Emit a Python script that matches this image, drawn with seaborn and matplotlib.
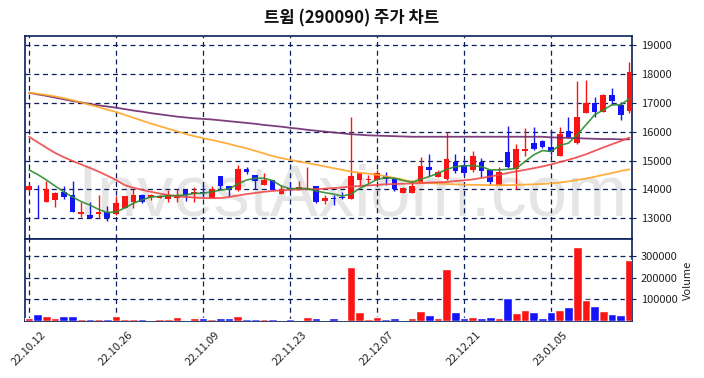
import numpy as np
import pandas as pd
import matplotlib
matplotlib.use("Agg")
import matplotlib.pyplot as plt
import seaborn as sns

# ---------------- data ----------------
title = "트윔 (290090) 주가 차트"
watermark = "InvestAxiom.com"
tick_labels = ["22.10.12", "22.10.26", "22.11.09", "22.11.23", "22.12.07", "22.12.21", "23.01.05"]
tick_every = 10

open_ = [13980, 13960, 13580, 13650, 13925, 13810, 13160, 13100, 13160, 13210,
         13160, 13350, 13560, 13810, 13740, 13690, 13660, 13690, 13990, 13830,
         13920, 13690, 14470, 14120, 13980, 14700, 14500, 14140, 14330, 13860,
         14050, 14020, 14020, 14120, 13590, 13720, 13720, 13660, 14330, 14330,
         14330, 14470, 14350, 13890, 13890, 14210, 14780, 14420, 14350, 14940,
         14850, 14680, 14940, 14680, 14160, 15290, 14720, 15350, 15600, 15680,
         15480, 15170, 16040, 15610, 16650, 16990, 16700, 17280, 16940, 16740]
close = [14120, 13940, 14000, 13880, 13750, 13230, 13220, 13010, 13220, 13000,
         13520, 13760, 13810, 13580, 13800, 13770, 13800, 13810, 13810, 13900,
         13870, 14000, 14120, 13980, 14710, 14610, 14310, 14340, 13980, 14020,
         14030, 14100, 14060, 13580, 13700, 13670, 13700, 14470, 14560, 14360,
         14560, 14350, 14020, 14050, 14130, 14810, 14680, 14620, 15050, 14650,
         14560, 15160, 14650, 14260, 14620, 14790, 15400, 15400, 15400, 15480,
         15290, 15920, 15830, 16530, 16990, 16700, 17280, 17080, 16590, 18070]
high = [14200, 14150, 14300, 13900, 14130, 14300, 13580, 13560, 13800, 13440,
        13790, 13790, 14000, 13850, 13850, 13800, 13990, 14000, 14000, 14100,
        14150, 14120, 14470, 14120, 14850, 14790, 14520, 14560, 14330, 14160,
        14260, 14310, 14770, 14130, 13810, 13810, 13920, 16520, 14560, 14490,
        14680, 14620, 14380, 14080, 14330, 15140, 15230, 14680, 16000, 15220,
        15020, 15350, 15100, 14700, 14790, 16200, 15570, 16150, 16180, 15720,
        16050, 16160, 16510, 17770, 17800, 17200, 17300, 17520, 17050, 18420]
low = [13960, 13000, 13580, 13400, 13660, 13230, 13050, 13000, 13020, 12900,
       13130, 13350, 13360, 13540, 13650, 13690, 13580, 13560, 13600, 13580,
       13750, 13690, 14000, 13770, 13950, 14540, 14020, 14140, 13980, 13860,
       13940, 14000, 14010, 13520, 13500, 13470, 13670, 13660, 14170, 14220,
       14300, 14160, 13950, 13890, 13890, 14210, 14470, 14420, 14330, 14560,
       14500, 14620, 14450, 14190, 14160, 14730, 14030, 15160, 15380, 15450,
       15200, 15170, 15790, 15570, 16650, 16500, 16700, 16940, 16400, 16640]
volume = [14000, 32000, 23000, 14000, 23000, 23000, 9000, 9000, 9000, 9000,
          23000, 9000, 9000, 9000, 5000, 9000, 9000, 18000, 5000, 14000,
          14000, 9000, 14000, 14000, 23000, 9000, 9000, 9000, 9000, 5000,
          9000, 5000, 18000, 14000, 5000, 14000, 5000, 252000, 42000, 9000,
          18000, 9000, 14000, 5000, 14000, 46000, 28000, 14000, 242000, 42000,
          14000, 18000, 14000, 18000, 14000, 107000, 37000, 51000, 42000, 14000,
          42000, 51000, 65000, 345000, 98000, 70000, 46000, 33000, 28000, 284000]
ma5 = [14680, 14520, 14330, 14120, 13920, 13740, 13580, 13460, 13310, 13200,
       13220, 13360, 13520, 13640, 13740, 13760, 13780, 13790, 13810, 13870,
       13870, 13920, 13980, 14020, 14190, 14330, 14390, 14390, 14310, 14120,
       14030, 14040, 14030, 13950, 13890, 13840, 13770, 13840, 14040, 14190,
       14350, 14410, 14390, 14310, 14250, 14350, 14450, 14560, 14700, 14790,
       14820, 14830, 14790, 14680, 14680, 14700, 14730, 14970, 15200, 15350,
       15320, 15530, 15610, 15900, 16240, 16590, 16760, 16940, 16940, 17150]
ma20 = [15830, 15640, 15450, 15270, 15120, 14990, 14870, 14750, 14620, 14480,
        14330, 14150, 14060, 13990, 13920, 13860, 13810, 13770, 13740, 13720,
        13700, 13700, 13700, 13740, 13790, 13840, 13880, 13920, 13950, 13970,
        13990, 14000, 14010, 14010, 14030, 14050, 14070, 14100, 14120, 14140,
        14160, 14180, 14190, 14200, 14210, 14220, 14240, 14250, 14260, 14290,
        14320, 14350, 14400, 14450, 14510, 14570, 14630, 14680, 14740, 14800,
        14870, 14950, 15030, 15120, 15220, 15340, 15460, 15570, 15680, 15800]
ma60 = [17360, 17320, 17280, 17230, 17170, 17100, 17020, 16940, 16860, 16770,
        16690, 16590, 16490, 16390, 16290, 16200, 16110, 16020, 15930, 15850,
        15780, 15720, 15650, 15580, 15500, 15430, 15340, 15250, 15160, 15090,
        15030, 14970, 14920, 14860, 14800, 14740, 14680, 14620, 14580, 14550,
        14510, 14460, 14400, 14340, 14270, 14240, 14220, 14210, 14190, 14180,
        14170, 14160, 14160, 14150, 14150, 14150, 14160, 14170, 14180, 14190,
        14210, 14240, 14280, 14330, 14380, 14440, 14510, 14570, 14640, 14700]
ma120 = [17360, 17300, 17250, 17190, 17130, 17070, 17020, 16970, 16920, 16880,
         16840, 16790, 16740, 16700, 16650, 16610, 16570, 16530, 16500, 16470,
         16450, 16430, 16400, 16370, 16340, 16310, 16280, 16240, 16210, 16180,
         16140, 16110, 16070, 16040, 16010, 15980, 15950, 15920, 15900, 15880,
         15870, 15860, 15850, 15840, 15830, 15830, 15830, 15830, 15830, 15830,
         15830, 15830, 15830, 15830, 15830, 15830, 15830, 15830, 15830, 15830,
         15810, 15800, 15790, 15780, 15770, 15760, 15750, 15750, 15740, 15740]

# ---------------- style ----------------
sns.set_style("white")
plt.rcParams["font.family"] = ["Noto Sans CJK KR", "DejaVu Sans"]

NAVY = "#0b1f5c"
RED = "#fa1414"
BLUE = "#1414fa"

n = len(close)
idx = np.arange(n)
df = pd.DataFrame({"idx": idx, "open": open_, "close": close, "high": high,
                   "low": low, "volume": volume,
                   "ma5": ma5, "ma20": ma20, "ma60": ma60, "ma120": ma120})
df["dir"] = np.where(df["close"] >= df["open"], "up", "down")
colors = [RED if d == "up" else BLUE for d in df["dir"]]

W, H = 704, 378
fig = plt.figure(figsize=(W / 100, H / 100), dpi=100)
L, R = 25, 632
ax = fig.add_axes([L / W, 1 - 239 / H, (R - L) / W, (239 - 36) / H])
axv = fig.add_axes([L / W, 1 - 321 / H, (R - L) / W, (321 - 239) / H], sharex=ax)

# watermark
ax.text(0.5, 1 - 215 / H, watermark, transform=fig.transFigure, ha="center",
        va="baseline", fontsize=52, color="#e5e5e5", family="Liberation Sans",
        zorder=0.2)

# candles
ax.vlines(df["idx"], df["low"], df["high"], colors=colors, linewidth=1.0, zorder=2)
body_bottom = np.minimum(df["open"], df["close"])
body_h = np.maximum(np.abs(df["close"] - df["open"]), 25)
ax.bar(df["idx"], body_h, bottom=body_bottom, width=0.65, color=colors,
       linewidth=0, zorder=3)

# moving averages
for col, c, lw in [("ma120", "#6e2a6e", 1.3), ("ma60", "#ffa72a", 1.3),
                   ("ma20", "#f04848", 1.3), ("ma5", "#2e8b2e", 1.2)]:
    sns.lineplot(data=df, x="idx", y=col, color=c, linewidth=lw, ax=ax,
                 zorder=4, alpha=0.9)

# volume
sns.barplot(data=df, x="idx", y="volume", hue="dir",
            palette={"up": RED, "down": BLUE}, dodge=False, native_scale=True,
            width=1.0, legend=False, ax=axv, saturation=1, zorder=3)

# axes styling
ticks = np.arange(0, n, tick_every)
for a in (ax, axv):
    a.set_xlim(-0.46, 69.3)
    a.set_xticks(ticks)
    a.grid(True, axis="both", linestyle=(0, (4, 3)), color=NAVY, linewidth=0.9)
    a.set_axisbelow(True)
    for s in a.spines.values():
        s.set_color(NAVY)
        s.set_linewidth(1.2)
    a.yaxis.tick_right()
    a.yaxis.set_label_position("right")
    a.tick_params(axis="both", colors=NAVY, labelcolor="#222222", labelsize=8,
                  length=3, width=0.8)
    a.set_xlabel("")

ax.set_ylim(12282, 19327)
ax.set_yticks(np.arange(13000, 19001, 1000))
ax.set_ylabel("")
ax.tick_params(axis="x", labelbottom=False, length=0)

axv.set_ylim(0, 381000)
axv.set_yticks([100000, 200000, 300000])
axv.set_yticklabels(["100000", "200000", "300000"])
axv.set_ylabel("Volume", fontsize=8, color="#222222", labelpad=4)
axv.set_xticks(ticks)
axv.set_xticklabels(tick_labels, rotation=45, ha="center")

fig.text(0.5, 1 - 18 / H, title, ha="center", va="center", fontsize=12,
         fontweight="bold", color="#111111")

fig.savefig("out.png", dpi=100)
